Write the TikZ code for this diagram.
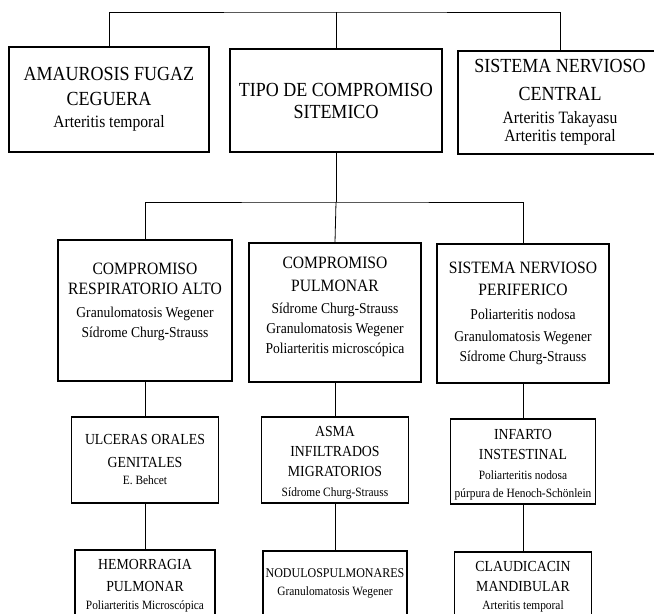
\documentclass[tikz,border=0pt]{standalone}
\usepackage{fontspec}
\setmainfont{Liberation Serif}[FakeStretch=0.9]
\usepackage{tikz}
\usetikzlibrary{positioning,calc}
\newcommand{\subg}[1]{{\fontsize{13}{15}\selectfont #1}}
\newcommand{\sub}[1]{{\fontsize{11.3}{14}\selectfont #1}}
\newcommand{\subp}[1]{{\fontsize{9.5}{11}\selectfont #1}}
\newcommand{\alto}{\rule{0pt}{12.5pt}}

\begin{document}
\begin{tikzpicture}[x=0.75pt, y=-0.75pt, line width=0.6pt,
      caja/.style={draw, line width=0.8pt, fill=white, align=center, inner sep=2pt},
      g1/.style={caja, font=\fontsize{15}{19}\selectfont},
      g2/.style={caja, font=\fontsize{13}{15}\selectfont},
      g3/.style={caja, font=\fontsize{11.5}{15}\selectfont}]
    \useasboundingbox (0,0) rectangle (654,614);
    \clip (0,0) rectangle (654,614);
    % nivel 1
    \node[g1, minimum width=150pt, minimum height=78.75pt] (amau) at (109,99.5)
      {AMAUROSIS FUGAZ\\CEGUERA\\[-2.5pt]\subg{Arteritis temporal}};
    \node[g1, minimum width=159pt, minimum height=77.25pt] (tipo) at (336,100.5)
      {TIPO DE COMPROMISO\\[-2.5pt]SITEMICO};
    \node[g1, minimum width=153pt, minimum height=77.25pt] (snc) at (560,102.5)
      {SISTEMA NERVIOSO\\[2pt]CENTRAL\\[-2pt]\subg{Arteritis Takayasu}\\[-5.5pt]\subg{Arteritis temporal}};
    % nivel 2
    \node[g2, minimum width=130.5pt, minimum height=105.75pt] (cra) at (145,310.5)
      {COMPROMISO\\RESPIRATORIO ALTO\\[2pt]\sub{Granulomatosis Wegener}\\\sub{Sídrome Churg-Strauss}\\};
    \node[g2, minimum width=129pt, minimum height=104.25pt] (cp) at (335,312.5)
      {COMPROMISO\\[2pt]PULMONAR\\[1.5pt]\sub{Sídrome Churg-Strauss}\\\sub{Granulomatosis Wegener}\\\sub{Poliarteritis microscópica}\\[-4.5pt]};
    \node[g2, minimum width=129pt, minimum height=104.25pt] (snp) at (523,313.5)
      {SISTEMA NERVIOSO\\[1.5pt]PERIFERICO\\[3pt]\sub{Poliarteritis nodosa}\\[1pt]\sub{Granulomatosis Wegener}\\\sub{Sídrome Churg-Strauss}};
    % nivel 3
    \node[g3, minimum width=110.25pt, minimum height=64.5pt] (ulc) at (145,460)
      {ULCERAS ORALES\\[2pt]GENITALES\\[-2pt]\subp{E. Behcet}};
    \node[g3, minimum width=110.25pt, minimum height=64.5pt] (asma) at (335,460)
      {\alto ASMA\\INFILTRADOS\\MIGRATORIOS\\\subp{Sídrome Churg-Strauss}};
    \node[g3, minimum width=108.75pt, minimum height=63.75pt] (inf) at (523,461.5)
      {\alto INFARTO\\INSTESTINAL\\\subp{Poliarteritis nodosa}\\[-1.5pt]\subp{púrpura de Henoch-Schönlein}};
    % nivel 4
    \node[g3, minimum width=105pt, minimum height=49.5pt] (hem) at (145,583)
      {\alto HEMORRAGIA\\[1pt]PULMONAR\\[-1pt]\subp{Poliarteritis Microscópica}};
    \node[g3, minimum width=105.75pt, minimum height=48.75pt] (nod) at (335,583.5)
      {\fontsize{10}{12}\selectfont NODULOSPULMONARES\\[-1pt]\subp{Granulomatosis Wegener}};
    \node[g3, minimum width=102.75pt, minimum height=48pt] (cla) at (523,584)
      {\alto CLAUDICACIN\\MANDIBULAR\\[-1.5pt]\subp{Arteritis temporal}};
    % conectores
    \coordinate (arriba) at (336,12);
    \coordinate (barra) at (336,202);
    \draw (amau.north) |- (arriba) -| (snc.north);
    \draw (arriba) -- (tipo.north);
    \draw (tipo.south) -- (barra);
    \draw (cra.north) |- (barra) -| (snp.north);
    \draw (barra) -- (cp.north);
    \draw (cra) -- (ulc); \draw (ulc) -- (hem);
    \draw (cp) -- (asma); \draw (asma) -- (nod);
    \draw (snp) -- (inf); \draw (inf) -- (cla);
  \end{tikzpicture}
\end{document}
